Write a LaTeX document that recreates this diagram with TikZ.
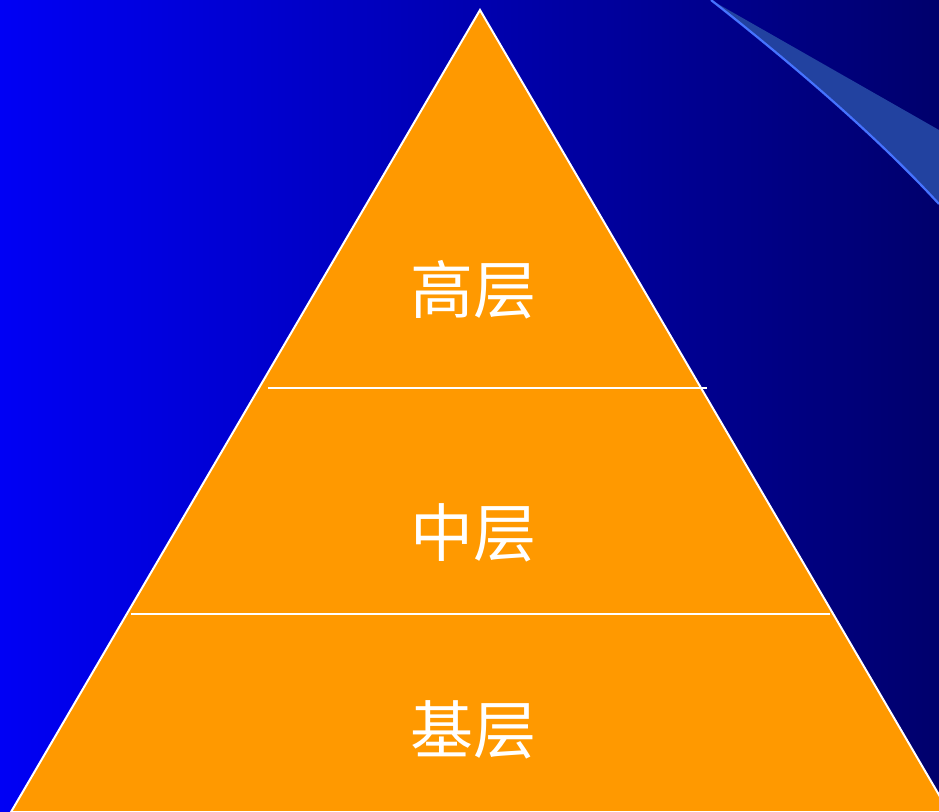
\documentclass[tikz,border=0pt]{standalone}
\usepackage{fontspec}
\newfontfamily\cjk{Noto Sans CJK SC}
\definecolor{bgleft}{RGB}{0,0,245}
\definecolor{bgright}{RGB}{0,0,108}
\definecolor{pyr}{RGB}{255,153,0}
\definecolor{swfill}{RGB}{34,66,160}
\definecolor{swline}{RGB}{70,115,255}
\tikzset{
  layerlabel/.style={text=white,font=\cjk\fontsize{63}{65}\selectfont,inner sep=0pt},
  divider/.style={draw=white,line width=2pt}
}
\begin{document}
\begin{tikzpicture}[x=1pt,y=-1pt]
\useasboundingbox (0,0) rectangle (939,811);
\shade[left color=bgleft,right color=bgright] (0,0) rectangle (939,811);
% swoosh
\fill[swfill] (711,0) -- (939,130) -- (939,204) .. controls (880,140) and (800,70) .. (711,0) -- cycle;
\draw[swline,line width=2.2pt] (711,0) .. controls (800,70) and (880,140) .. (939,204);
% pyramid
\begin{scope}
\clip (0,0) rectangle (939,811);
\fill[pyr,draw=white,line width=2pt] (480,10) -- (949,812) -- (11,812) -- cycle;
\end{scope}
\coordinate (l1a) at (268,388);
\coordinate (l1b) at (707,388);
\coordinate (l2a) at (131,614);
\coordinate (l2b) at (830,614);
\draw[divider] (l1a) -- (l1b);
\draw[divider] (l2a) -- (l2b);
\node[layerlabel] (top) at (473,290) {高层};
\node[layerlabel] (mid) at (473,533) {中层};
\node[layerlabel] (base) at (473,730) {基层};
\end{tikzpicture}
\end{document}
